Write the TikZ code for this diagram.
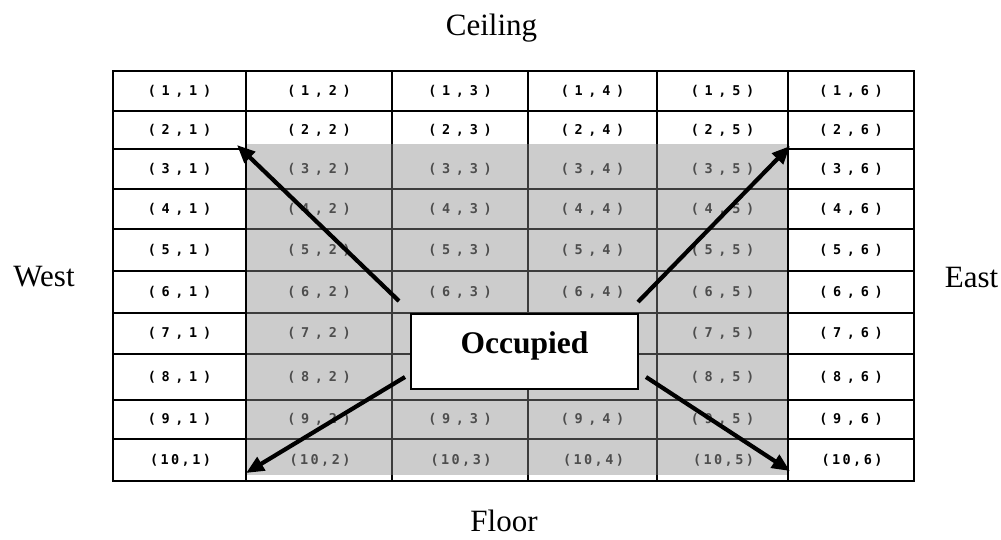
\documentclass[tikz,border=0pt]{standalone}
\usepackage{fontspec}
\setmainfont{Liberation Serif}
\newfontfamily\cellfont{DejaVu Sans Mono}[WordSpace=0.7]
\newfontfamily\cellwidefont{DejaVu Sans Mono}[LetterSpace=18]
\usetikzlibrary{arrows.meta}
\definecolor{grayfill}{HTML}{CCCCCC}
\definecolor{graytext}{HTML}{4D4D4D}
\definecolor{grayline}{HTML}{3C3C3C}
\tikzset{
  blackline/.style={draw=black, line width=1.8pt},
  grayrule/.style={draw=grayline, line width=1.5pt},
  cell/.style={inner sep=0pt, font=\cellfont\bfseries\fontsize{13.5}{15}\selectfont},
  cellten/.style={inner sep=0pt, font=\cellwidefont\bfseries\fontsize{13.5}{15}\selectfont},
  side/.style={inner sep=0pt, anchor=base, font=\fontsize{31}{36}\selectfont},
  occbox/.style={draw=black, line width=1.5pt, fill=white, inner sep=0pt,
    minimum width=227pt, text width=227pt, align=center,
    text height=40pt, text depth=35pt, font=\bfseries\fontsize{31.5}{36}\selectfont},
  bigarrow/.style={line width=4.2pt, -{Triangle[length=18pt,width=15pt]}}
}
\begin{document}
\begin{tikzpicture}[x=1pt,y=-1pt]
\useasboundingbox (0,0) rectangle (1001,539);
% black grid
\draw[blackline] (113,71) rectangle (914,481);
\foreach \yy in {111,149,189,229,271,313,354,400,439}
  \draw[blackline] (113,\yy) -- (914,\yy);
\foreach \xx in {246,392,528,657,788}
  \draw[blackline] (\xx,71) -- (\xx,481);
% gray region
\fill[grayfill] (246,144) rectangle (788,475);
\foreach \yy in {189,229,271,313,354,400,439}
  \draw[grayrule] (246,\yy) -- (788,\yy);
\foreach \xx in {392,528,657}
  \draw[grayrule] (\xx,144) -- (\xx,475);
\foreach \xx in {246,788}
  \draw[blackline] (\xx,144) -- (\xx,481);
% cell labels
\foreach \r/\yy in {1/91,2/130,3/169,4/209,5/250,6/292,7/333.5,8/377,9/419.5,10/460}{
  \foreach \c/\xx in {1/179.5,2/319,3/460,4/592.5,5/722.5,6/851}{
    \pgfmathtruncatemacro{\isgray}{(\c>1)*(\c<6)*(\r>2)}
    \pgfmathtruncatemacro{\hidden}{(\c>2)*(\c<5)*(\r>6)*(\r<9)}
    \ifnum\isgray=1 \colorlet{cc}{graytext}\else\colorlet{cc}{black}\fi
    \ifnum\hidden=0
      \ifnum\r<10
        \node[cell, text=cc] (c\r-\c) at (\xx,\yy) {( \r{} , \c{} )};
      \else
        \node[cellten, text=cc] (c\r-\c) at (\xx+1,\yy) {(\r,\c)};
      \fi
    \fi
  }
}
% side labels
\node[side] (ceiling) at (491.5,35.5) {Ceiling};
\node[side] (west) at (44,286.5) {West};
\node[side] (east) at (971.5,287.5) {East};
\node[side] (floor) at (504,531) {Floor};
% occupied box
\node[occbox] (occ) at (524.5,313) [anchor=north] {Occupied};
% arrows
\coordinate (nwS) at (399,301);
\coordinate (nwT) at (237,145);
\coordinate (neS) at (638,302);
\coordinate (neT) at (790,146);
\coordinate (swS) at (405,377);
\coordinate (swT) at (246,473);
\coordinate (seS) at (646,377);
\coordinate (seT) at (790,471);
\draw[bigarrow] (nwS) -- (nwT);
\draw[bigarrow] (neS) -- (neT);
\draw[bigarrow] (swS) -- (swT);
\draw[bigarrow] (seS) -- (seT);
\end{tikzpicture}
\end{document}
